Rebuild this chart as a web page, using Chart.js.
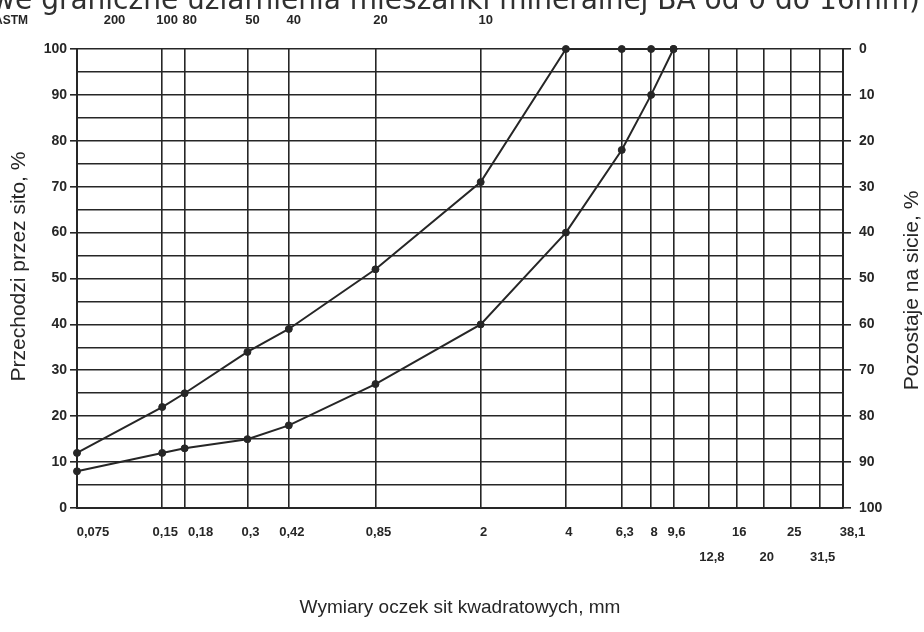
<!DOCTYPE html>
<html lang="pl">
<head>
<meta charset="utf-8">
<title>Krzywe graniczne uziarnienia</title>
<script src="https://cdn.jsdelivr.net/npm/chart.js@4.4.1/dist/chart.umd.min.js"></script>
<style>
  html, body { margin: 0; padding: 0; background: #fff; overflow: hidden; }
  #wrap { position: relative; width: 924px; height: 632px; overflow: hidden; }
  #chart { position: absolute; left: 0; top: 0; }
  #title {
    position: absolute; right: 4px; top: -14px; white-space: nowrap;
    font: 28px/28px "DejaVu Sans", sans-serif; color: #303030;
  }
  #astm {
    position: absolute; left: -6px; top: 13px;
    font: bold 12px "Liberation Sans", Arial, sans-serif; color: #262626;
  }
</style>
</head>
<body>
<div id="wrap">
  <canvas id="chart" width="924" height="632"></canvas>
  <div id="title">Krzywe graniczne uziarnienia mieszanki mineralnej BA od 0 do 16mm)</div>
  <div id="astm">ASTM</div>
</div>
<script>
/* ── dane: sita i krzywe graniczne ── */
const sieves      = [0.075, 0.15, 0.18, 0.3, 0.42, 0.85, 2, 4, 6.3, 8, 9.6, 12.8, 16, 20, 25, 31.5, 38.1];
const sieveLabels = ['0,075', '0,15', '0,18', '0,3', '0,42', '0,85', '2', '4', '6,3', '8', '9,6', '12,8', '16', '20', '25', '31,5', '38,1'];
const secondRow   = ['12,8', '20', '31,5'];

const astmSieves  = [0.075, 0.15, 0.18, 0.3, 0.42, 0.85, 2];
const astmLabels  = ['200', '100', '80', '50', '40', '20', '10'];

const upperSieves = [0.075, 0.15, 0.18, 0.3, 0.42, 0.85, 2, 4, 6.3, 8, 9.6];
const upperPass   = [12, 22, 25, 34, 39, 52, 71, 100, 100, 100, 100];

const lowerSieves = [0.075, 0.15, 0.18, 0.3, 0.42, 0.85, 2, 4, 6.3, 8, 9.6];
const lowerPass   = [8, 12, 13, 15, 18, 27, 40, 60, 78, 90, 100];

const INK  = '#262626';
const FONT = '"Liberation Sans", Arial, sans-serif';
const EM   = '\u2003';

function pts(xs, ys) {
  return xs.map((x, i) => ({ x, y: ys[i] }));
}

function curve(data) {
  return {
    data,
    borderColor     : INK,
    borderWidth     : 2,
    backgroundColor : INK,
    pointRadius     : 3.5,
    pointBorderWidth: 1,
    tension         : 0,
    fill            : false,
    clip            : false,
  };
}

/* przesunięcie podpisu w prawo (jak w oryginale) – wiodące spacje */
function nudge(lbl, n) {
  return n ? EM.repeat(n) + lbl : lbl;
}

/* tytuły osi pionowych – obie czytane od dołu do góry */
const sideTitles = {
  id: 'sideTitles',
  afterDraw(chart) {
    const { ctx, chartArea: a } = chart;
    const mid = (a.top + a.bottom) / 2;
    ctx.save();
    ctx.fillStyle = INK;
    ctx.font = '21px ' + FONT;
    ctx.textAlign = 'center';
    ctx.textBaseline = 'middle';
    [[19, mid - 12, 'Przechodzi przez sito, %'],
     [912, mid + 12, 'Pozostaje na sicie, %']].forEach(([x, y, t]) => {
      ctx.save();
      ctx.translate(x, y);
      ctx.rotate(-Math.PI / 2);
      ctx.fillText(t, 0, 0);
      ctx.restore();
    });
    ctx.restore();
  },
};

new Chart(document.getElementById('chart'), {
  type: 'line',
  data: {
    datasets: [
      curve(pts(upperSieves, upperPass)),
      curve(pts(lowerSieves, lowerPass)),
    ],
  },
  plugins: [sideTitles],
  options: {
    responsive: false,
    animation : false,
    layout    : { padding: 0 },
    plugins   : { legend: { display: false }, tooltip: { enabled: false } },
    scales: {
      x: {
        type    : 'logarithmic',
        position: 'bottom',
        min: sieves[0],
        max: sieves[sieves.length - 1],
        afterBuildTicks: s => { s.ticks = sieves.map(v => ({ value: v })); },
        afterFit: s => { s.height = 124; },
        grid  : { color: INK, lineWidth: 1.6, drawTicks: false },
        border: { color: INK, width: 2 },
        ticks : {
          autoSkip: false, maxRotation: 0, padding: 12, labelOffset: 3, color: INK,
          font: { family: FONT, size: 13, weight: 'bold', lineHeight: 1.9 },
          callback: (v, i) => {
            const lbl = sieveLabels[i];
            if (secondRow.includes(lbl)) return ['', lbl];
            const n = lbl === '0,075' ? 2 : lbl === '0,18' ? 2 : lbl === '38,1' ? 1 : 0;
            return nudge(lbl, n);
          },
        },
        title: {
          display: true, text: 'Wymiary oczek sit kwadratowych, mm', color: INK,
          font: { family: FONT, size: 19 }, padding: { top: 0, bottom: 13 },
        },
      },
      x2: {
        type    : 'logarithmic',
        position: 'top',
        min: sieves[0],
        max: sieves[sieves.length - 1],
        afterBuildTicks: s => { s.ticks = astmSieves.map(v => ({ value: v })); },
        afterFit: s => { s.height = 49; },
        grid  : { display: false, drawTicks: false },
        border: { display: false },
        ticks : {
          autoSkip: false, maxRotation: 0, padding: 21, labelOffset: 5, color: INK,
          font: { family: FONT, size: 13, weight: 'bold' },
          callback: (v, i) => nudge(astmLabels[i], i === 0 ? 5 : 0),
        },
      },
      y: {
        position: 'left',
        min: 0, max: 100,
        afterFit: s => { s.width = 77; },
        grid: {
          color: INK, lineWidth: 1.6, tickLength: 7,
          tickColor: c => (c.tick && c.tick.value % 10 === 0 ? INK : 'rgba(0,0,0,0)'),
        },
        border: { color: INK, width: 2 },
        ticks : {
          stepSize: 5, padding: 3, color: INK,
          font: { family: FONT, size: 14, weight: 'bold' },
          callback: v => (v % 10 === 0 ? v : ''),
        },
      },
      y2: {
        position: 'right',
        reverse : true,
        min: 0, max: 100,
        afterFit: s => { s.width = 81; },
        grid  : { drawOnChartArea: false, color: INK, lineWidth: 1.6, tickLength: 8 },
        border: { color: INK, width: 2 },
        ticks : {
          stepSize: 10, padding: 8, color: INK,
          font: { family: FONT, size: 14, weight: 'bold' },
        },
      },
    },
  },
});
</script>
</body>
</html>
